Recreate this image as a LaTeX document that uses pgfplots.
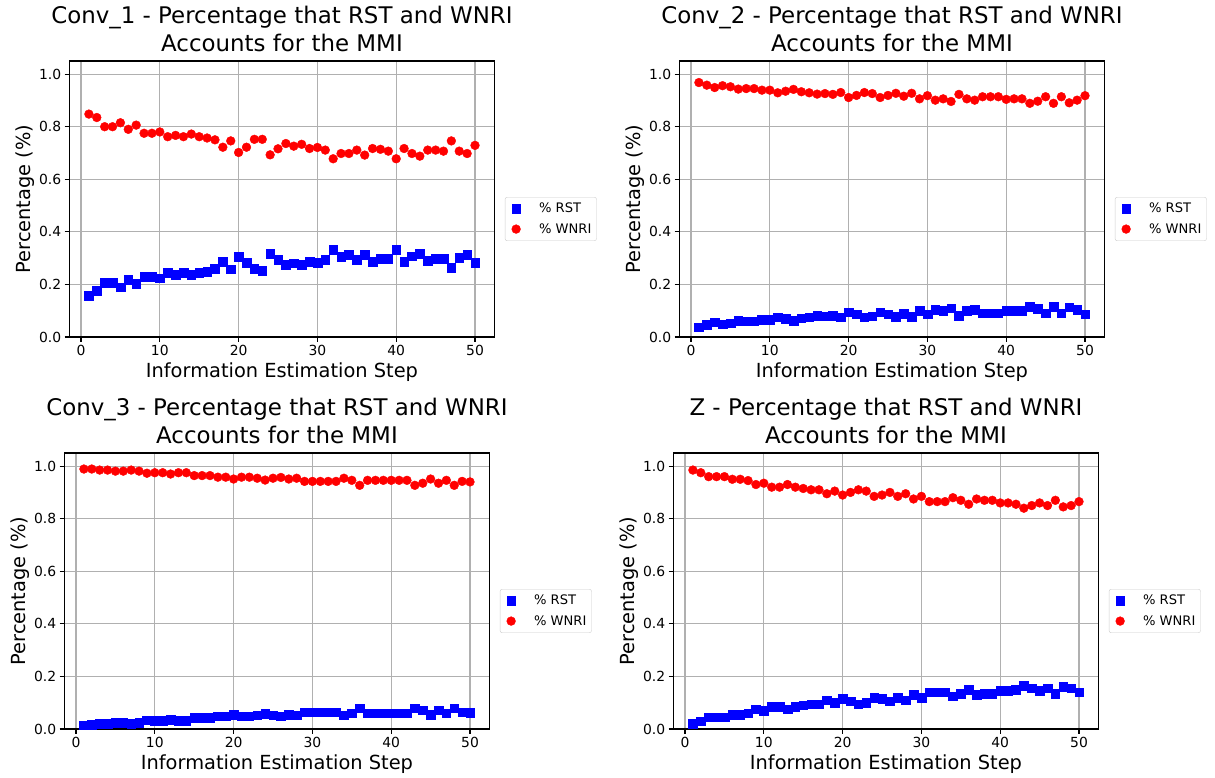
\documentclass[border=0pt]{standalone}
\usepackage{pgfplots}
\usepackage{pgfplotstable}
\pgfplotsset{compat=1.18}
\usepackage{fontspec}
\setmainfont{DejaVu Sans}

\definecolor{gridgray}{HTML}{B0B0B0}
\definecolor{legframe}{HTML}{CCCCCC}

% x  rst  wnri
\pgfplotstableread{
x rst wnri
1 0.157 0.848
2 0.175 0.835
3 0.206 0.800
4 0.206 0.800
5 0.189 0.815
6 0.217 0.790
7 0.202 0.806
8 0.229 0.775
9 0.229 0.775
10 0.223 0.780
11 0.245 0.762
12 0.236 0.767
13 0.245 0.762
14 0.238 0.772
15 0.245 0.762
16 0.248 0.757
17 0.259 0.750
18 0.286 0.722
19 0.258 0.746
20 0.305 0.702
21 0.283 0.722
22 0.259 0.752
23 0.252 0.752
24 0.318 0.693
25 0.293 0.716
26 0.276 0.736
27 0.280 0.726
28 0.275 0.733
29 0.286 0.717
30 0.283 0.721
31 0.293 0.711
32 0.333 0.678
33 0.305 0.698
34 0.313 0.698
35 0.293 0.711
36 0.313 0.692
37 0.286 0.717
38 0.297 0.714
39 0.297 0.707
40 0.333 0.678
41 0.286 0.717
42 0.308 0.698
43 0.318 0.688
44 0.290 0.711
45 0.297 0.711
46 0.297 0.707
47 0.263 0.746
48 0.302 0.707
49 0.313 0.698
50 0.283 0.729
}\convone

\pgfplotstableread{
x rst wnri
1 0.037 0.968
2 0.047 0.958
3 0.056 0.949
4 0.049 0.956
5 0.053 0.952
6 0.062 0.943
7 0.060 0.945
8 0.060 0.945
9 0.066 0.939
10 0.066 0.939
11 0.076 0.929
12 0.070 0.935
13 0.063 0.942
14 0.072 0.933
15 0.076 0.929
16 0.081 0.924
17 0.079 0.926
18 0.082 0.923
19 0.075 0.930
20 0.094 0.911
21 0.086 0.919
22 0.075 0.930
23 0.079 0.926
24 0.094 0.911
25 0.086 0.919
26 0.078 0.927
27 0.089 0.916
28 0.078 0.927
29 0.099 0.906
30 0.087 0.918
31 0.104 0.901
32 0.099 0.906
33 0.109 0.896
34 0.082 0.923
35 0.099 0.906
36 0.104 0.901
37 0.091 0.914
38 0.091 0.914
39 0.091 0.914
40 0.101 0.904
41 0.099 0.906
42 0.099 0.906
43 0.116 0.889
44 0.108 0.897
45 0.091 0.914
46 0.116 0.889
47 0.091 0.914
48 0.114 0.891
49 0.104 0.901
50 0.087 0.918
}\convtwo

\pgfplotstableread{
x rst wnri
1 0.015 0.989
2 0.017 0.989
3 0.021 0.985
4 0.021 0.985
5 0.025 0.981
6 0.025 0.981
7 0.021 0.985
8 0.025 0.981
9 0.033 0.973
10 0.031 0.975
11 0.031 0.975
12 0.036 0.970
13 0.031 0.975
14 0.031 0.975
15 0.042 0.964
16 0.042 0.964
17 0.042 0.964
18 0.048 0.958
19 0.048 0.958
20 0.055 0.951
21 0.048 0.958
22 0.048 0.958
23 0.052 0.954
24 0.059 0.947
25 0.052 0.954
26 0.049 0.957
27 0.055 0.951
28 0.052 0.954
29 0.064 0.942
30 0.064 0.942
31 0.064 0.942
32 0.064 0.942
33 0.064 0.942
34 0.052 0.954
35 0.060 0.946
36 0.079 0.927
37 0.060 0.946
38 0.060 0.946
39 0.060 0.946
40 0.060 0.946
41 0.060 0.946
42 0.060 0.946
43 0.079 0.927
44 0.071 0.935
45 0.055 0.951
46 0.071 0.935
47 0.060 0.946
48 0.079 0.927
49 0.064 0.942
50 0.063 0.940
}\convthree

\pgfplotstableread{
x rst wnri
1 0.020 0.985
2 0.030 0.975
3 0.045 0.960
4 0.045 0.960
5 0.045 0.960
6 0.055 0.950
7 0.055 0.950
8 0.060 0.945
9 0.075 0.930
10 0.070 0.935
11 0.085 0.920
12 0.085 0.920
13 0.075 0.930
14 0.085 0.920
15 0.090 0.915
16 0.095 0.910
17 0.095 0.910
18 0.110 0.895
19 0.100 0.905
20 0.115 0.890
21 0.105 0.900
22 0.095 0.910
23 0.100 0.905
24 0.120 0.885
25 0.115 0.890
26 0.105 0.900
27 0.120 0.885
28 0.110 0.895
29 0.130 0.875
30 0.120 0.885
31 0.140 0.865
32 0.140 0.865
33 0.140 0.865
34 0.125 0.880
35 0.135 0.870
36 0.150 0.855
37 0.130 0.875
38 0.135 0.870
39 0.135 0.870
40 0.145 0.860
41 0.145 0.860
42 0.150 0.855
43 0.165 0.840
44 0.155 0.850
45 0.145 0.860
46 0.155 0.850
47 0.135 0.870
48 0.160 0.845
49 0.155 0.850
50 0.140 0.865
}\convz

\pgfplotsset{
  panel/.style={
    scale only axis, width=424.7pt, height=276pt, anchor=south west,
    xmin=-1.45, xmax=52.45, ymin=0, ymax=1.05,
    xtick={0,10,20,30,40,50}, ytick={0,0.2,0.4,0.6,0.8,1.0},
    yticklabel style={/pgf/number format/.cd, fixed, fixed zerofill, precision=1},
    /pgf/number format/assume math mode=true,
    tick label style={font=\fontsize{13.9}{16}\selectfont},
    tick pos=left, tick align=outside, major tick length=4.86pt,
    every tick/.style={black, line width=1.1pt},
    axis line style={line width=1.1pt},
    grid=major, major grid style={gridgray, line width=1.1pt},
    xlabel={Information Estimation Step}, ylabel={Percentage (\%)},
    label style={font=\fontsize{19.4}{23}\selectfont},
    ylabel style={yshift=-2pt},
    title style={font=\fontsize{22.9}{27.5}\selectfont, align=center,
      at={(0.5,1)}, anchor=south, inner sep=0pt, yshift=3pt},
    legend style={at={(1.025,0.507)}, anchor=north west,
      font=\fontsize{13.1}{15}\selectfont, draw=legframe, rounded corners=2pt,
      fill=white, row sep=5pt, inner xsep=3pt, inner ysep=4pt,
      nodes={inner xsep=2pt}},
    legend image code/.code={%
      \path[draw=none, fill=none] (0pt,-4pt) rectangle (29pt,4pt);
      \draw[#1] plot coordinates {(8pt,0pt)};},
    legend cell align=left,
  },
  rst/.style={only marks, mark=square*, mark size=4.3pt, color=blue},
  wnri/.style={only marks, mark=*, mark size=4.4pt, color=red},
}

\begin{document}
\begin{tikzpicture}
\useasboundingbox (0,0) rectangle (1215pt,778pt);

\begin{axis}[panel, at={(69.6pt,441pt)},
  title={Conv\_1 - Percentage that RST and WNRI\\Accounts for the MMI}]
  \addplot[rst] table[x=x, y=rst] {\convone};
  \addplot[wnri] table[x=x, y=wnri] {\convone};
  \legend{\% RST, \% WNRI}
\end{axis}

\begin{axis}[panel, at={(679.6pt,441pt)},
  title={Conv\_2 - Percentage that RST and WNRI\\Accounts for the MMI}]
  \addplot[rst] table[x=x, y=rst] {\convtwo};
  \addplot[wnri] table[x=x, y=wnri] {\convtwo};
  \legend{\% RST, \% WNRI}
\end{axis}

\begin{axis}[panel, at={(64.6pt,49pt)},
  title={Conv\_3 - Percentage that RST and WNRI\\Accounts for the MMI}]
  \addplot[rst] table[x=x, y=rst] {\convthree};
  \addplot[wnri] table[x=x, y=wnri] {\convthree};
  \legend{\% RST, \% WNRI}
\end{axis}

\begin{axis}[panel, at={(673.6pt,49pt)},
  title={Z - Percentage that RST and WNRI\\Accounts for the MMI}]
  \addplot[rst] table[x=x, y=rst] {\convz};
  \addplot[wnri] table[x=x, y=wnri] {\convz};
  \legend{\% RST, \% WNRI}
\end{axis}
\end{tikzpicture}
\end{document}
